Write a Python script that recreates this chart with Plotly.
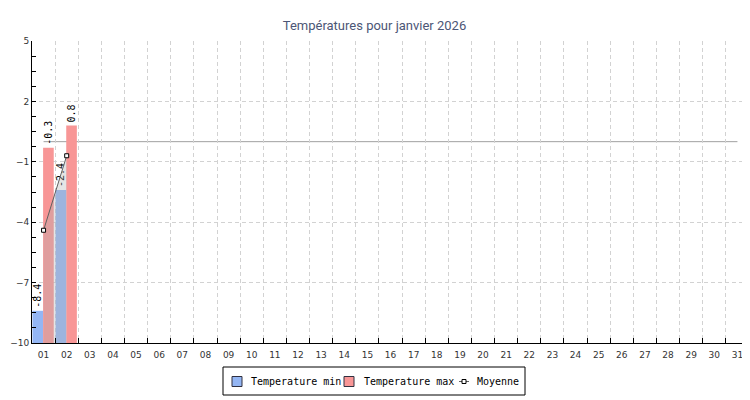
import plotly.graph_objects as go

# ---- data ----
DAYS = ["01", "02", "03", "04", "05", "06", "07", "08", "09", "10",
        "11", "12", "13", "14", "15", "16", "17", "18", "19", "20",
        "21", "22", "23", "24", "25", "26", "27", "28", "29", "30", "31"]
DATA_DAYS = ["01", "02"]
TEMP_MIN = [-8.4, -2.4]
TEMP_MAX = [-0.3, 0.8]
MOYENNE = [-4.4, -0.7]
THRESHOLD = 0
Y_MIN = -10
Y_MAX = 5
Y_TICKS = [5, 2, -1, -4, -7, -10]

TITLE = "Températures pour janvier 2026"
SERIES_NAMES = ["Temperature min", "Temperature max", "Moyenne"]

BLUE = "#94B6F4"
RED = "#F89696"
GRID = "#D2D2D2"
LABEL_FONT = dict(family="DejaVu Sans Mono", size=10, color="#000000")
LEGEND_FONT = dict(family="DejaVu Sans Mono", size=10, color="#000000")

# page offset (body margin) and figure geometry
OFF = 8
W, H = 742, 392
ML, MR, MT, MB = 24, 1, 33, 57
PW = W - ML - MR
PH = H - MT - MB


def px(X):
    """page x pixel -> paper fraction"""
    return (X - OFF - ML) / PW


def py(Y):
    """page y pixel -> paper fraction"""
    return (H - MB - (Y - OFF)) / PH


fig = go.Figure()

fig.add_trace(go.Bar(
    name=SERIES_NAMES[0], x=DATA_DAYS, y=[v - Y_MIN for v in TEMP_MIN], base=Y_MIN,
    offset=-0.48, width=0.46, marker=dict(color=BLUE, line=dict(width=0)),
    text=[f"{v:.1f}" for v in TEMP_MIN], textposition="outside", textangle=-90,
    textfont=LABEL_FONT, constraintext="none", cliponaxis=False, showlegend=False,
))
fig.add_trace(go.Bar(
    name=SERIES_NAMES[1], x=DATA_DAYS, y=[v - Y_MIN for v in TEMP_MAX], base=Y_MIN,
    offset=-0.02, width=0.46, marker=dict(color=RED, line=dict(width=0)),
    text=[f"{v:.1f}" for v in TEMP_MAX], textposition="outside", textangle=-90,
    textfont=LABEL_FONT, constraintext="none", cliponaxis=False, showlegend=False,
))
# area under the mean line
fig.add_trace(go.Scatter(
    x=DATA_DAYS, y=[Y_MIN for _ in DATA_DAYS], mode="lines",
    line=dict(width=0, color="rgba(0,0,0,0)"), showlegend=False, hoverinfo="skip",
))
fig.add_trace(go.Scatter(
    x=DATA_DAYS, y=MOYENNE, mode="lines", line=dict(width=0, color="rgba(0,0,0,0)"),
    fill="tonexty", fillcolor="rgba(176,176,176,0.33)", showlegend=False,
))
fig.add_trace(go.Scatter(
    name=SERIES_NAMES[2], x=DATA_DAYS, y=MOYENNE, mode="lines+markers",
    line=dict(color="#606060", width=1), showlegend=False,
    marker=dict(symbol="square", size=4, color="white", line=dict(color="black", width=1)),
))

fig.add_shape(type="line", xref="x", yref="y", x0=0, x1=len(DAYS) - 1,
              y0=THRESHOLD, y1=THRESHOLD, line=dict(color="#A0A0A0", width=1),
              layer="below")

# ---- legend box (drawn) ----
shapes = [
    dict(type="rect", xref="paper", yref="paper", x0=px(223), x1=px(525),
         y0=py(395), y1=py(367), line=dict(color="black", width=1),
         fillcolor="white", layer="above"),
    dict(type="rect", xref="paper", yref="paper", x0=px(232), x1=px(242),
         y0=py(386.5), y1=py(376.5), line=dict(color="#303040", width=1),
         fillcolor=BLUE, layer="above"),
    dict(type="rect", xref="paper", yref="paper", x0=px(344), x1=px(354),
         y0=py(386.5), y1=py(376.5), line=dict(color="#303040", width=1),
         fillcolor=RED, layer="above"),
    dict(type="line", xref="paper", yref="paper", x0=px(459), x1=px(469),
         y0=py(381.5), y1=py(381.5), line=dict(color="#606060", width=1),
         layer="above"),
    dict(type="rect", xref="paper", yref="paper", x0=px(462), x1=px(466),
         y0=py(383.5), y1=py(379.5), line=dict(color="black", width=1),
         fillcolor="white", layer="above"),
]
for s in shapes:
    fig.add_shape(**s)

legend_text_x = [249, 362, 475]
for name, X in zip(SERIES_NAMES, legend_text_x):
    fig.add_annotation(text=name, xref="paper", yref="paper", x=px(X), y=py(381.5),
                       xanchor="left", yanchor="middle", showarrow=False,
                       font=LEGEND_FONT)

fig.update_layout(
    width=W, height=H,
    margin=dict(l=ML, r=MR, t=MT, b=MB, autoexpand=False),
    paper_bgcolor="white", plot_bgcolor="white",
    barmode="overlay",
    hovermode=False,
    showlegend=False,
    title=dict(text=TITLE, x=(374.5 - OFF) / W, xref="container", xanchor="center",
               y=1 - (25 - OFF) / H, yref="container", yanchor="middle",
               font=dict(family="Roboto", size=13, color="#4C5676")),
    font=dict(family="DejaVu Sans", size=9, color="#333333"),
)

fig.update_xaxes(
    type="category", categoryorder="array", categoryarray=DAYS,
    tickmode="array", tickvals=DAYS, ticktext=DAYS,
    range=[-0.5, len(DAYS) - 0.5], automargin=False,
    tickson="boundaries", ticks="inside", ticklen=5, tickcolor="black",
    ticklabelstandoff=3,
    showgrid=True, gridcolor=GRID, griddash="4px,3px", gridwidth=1,
    showline=True, linecolor="black", linewidth=1,
    zeroline=False, tickfont=dict(family="DejaVu Sans", size=9, color="#333333"),
)
fig.update_yaxes(
    range=[Y_MIN, Y_MAX], tickmode="array", tickvals=Y_TICKS, automargin=False,
    ticks="inside", ticklen=4, tickcolor="black",
    minor=dict(tick0=Y_MIN, dtick=0.75, ticks="inside", ticklen=4,
               tickcolor="black", showgrid=False),
    showgrid=True, gridcolor=GRID, griddash="4px,3px", gridwidth=1,
    showline=True, linecolor="black", linewidth=1,
    zeroline=False, tickfont=dict(family="DejaVu Sans", size=9, color="#333333"),
)

fig.write_html("out.html")
